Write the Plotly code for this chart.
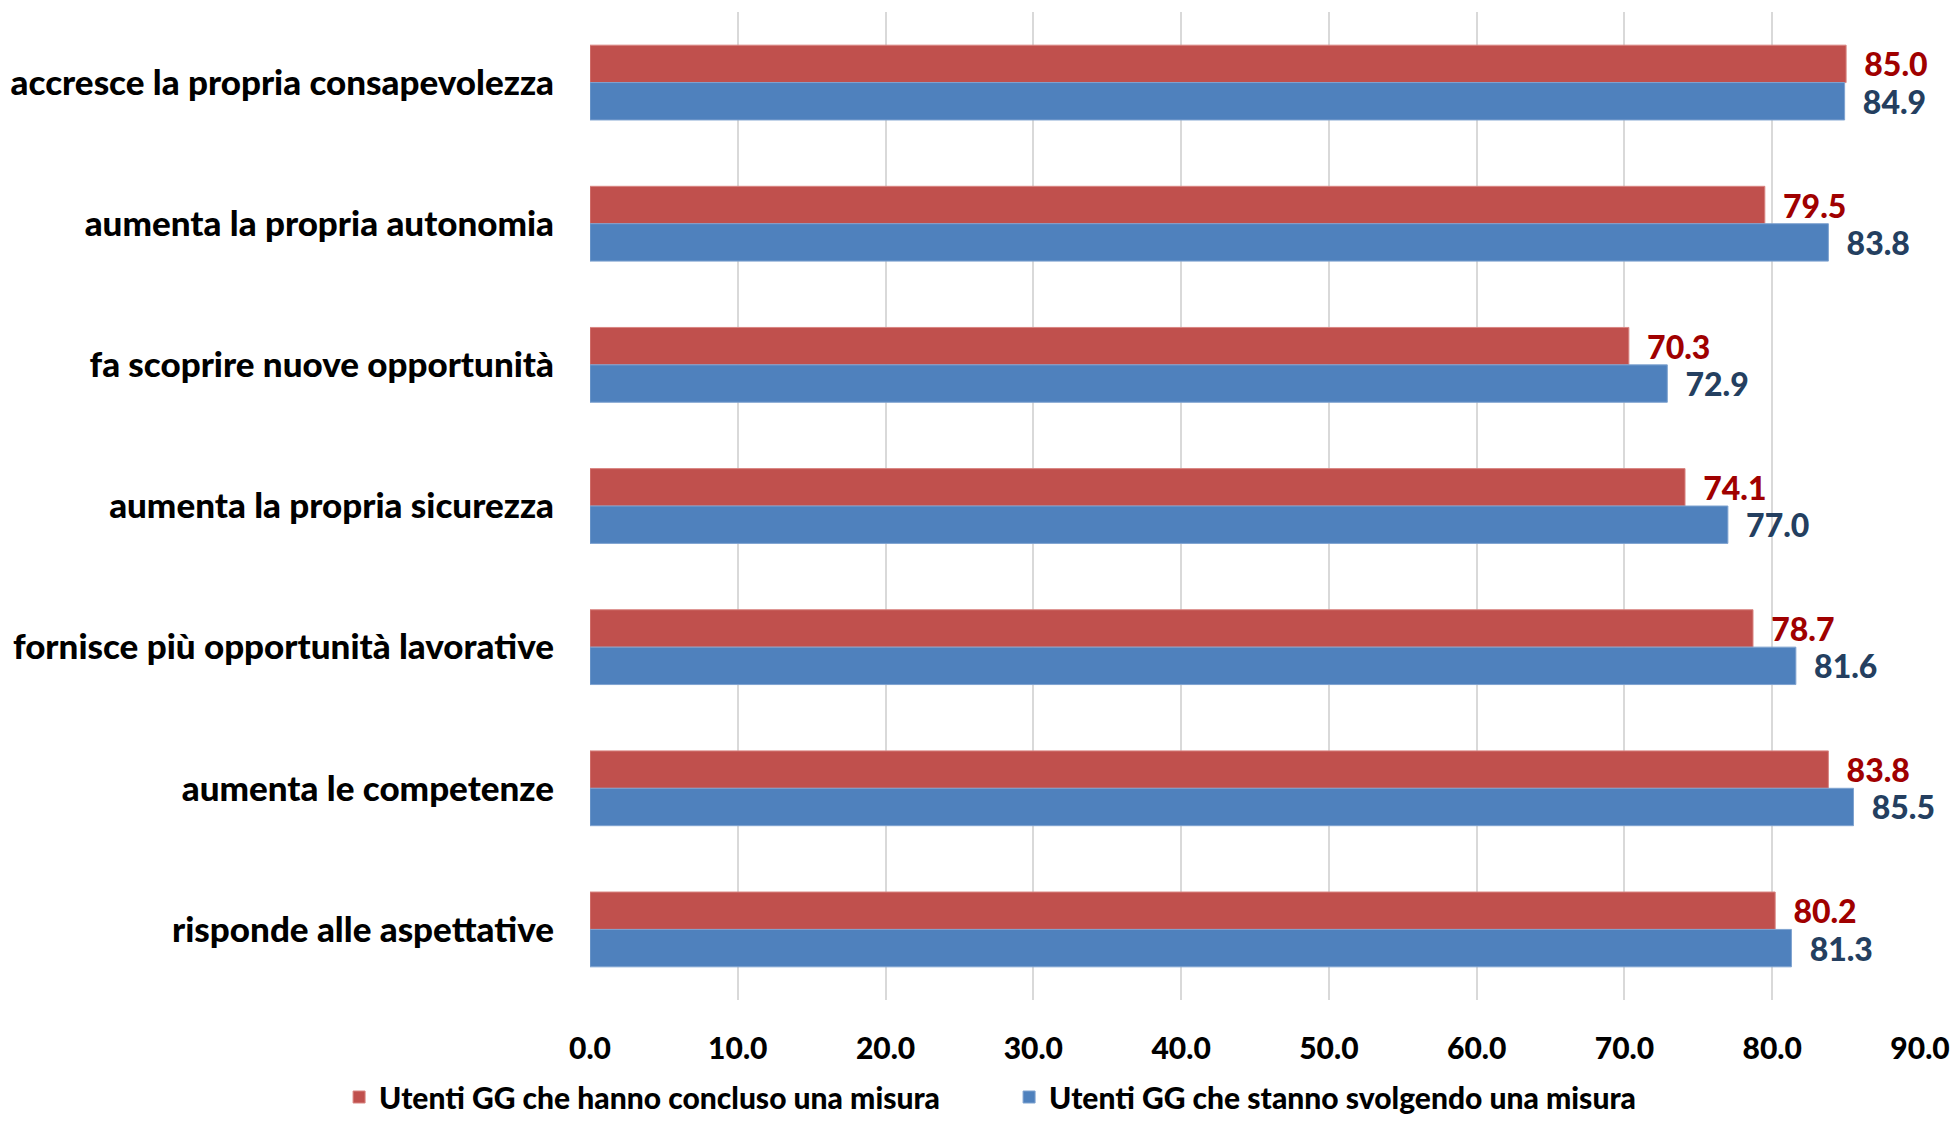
import plotly.graph_objects as go

categories = [
    "accresce la propria consapevolezza",
    "aumenta la propria autonomia",
    "fa scoprire nuove opportunità",
    "aumenta la propria sicurezza",
    "fornisce più opportunità lavorative",
    "aumenta le competenze",
    "risponde alle aspettative",
]
concluso = [85.0, 79.5, 70.3, 74.1, 78.7, 83.8, 80.2]
svolgendo = [84.9, 83.8, 72.9, 77.0, 81.6, 85.5, 81.3]
series_names = ["Utenti GG che hanno concluso una misura",
                "Utenti GG che stanno svolgendo una misura"]
tick_vals = [0, 10, 20, 30, 40, 50, 60, 70, 80, 90]

FONT = "Lato"
W = 900
PAD = "\u00a0" * 9

fig = go.Figure()
fig.add_trace(go.Bar(
    y=categories, x=concluso, orientation="h", name=series_names[0] + PAD,
    marker=dict(color="#C0504D", line=dict(color="#D98582", width=1)),
    text=[f"{v:.1f}" for v in concluso], texttemplate="\u00a0\u00a0%{text}",
    textposition="outside", cliponaxis=False, constraintext="none",
    textfont=dict(family=FONT, size=32, color="#A00000", weight=W),
))
fig.add_trace(go.Bar(
    y=categories, x=svolgendo, orientation="h", name=series_names[1],
    marker=dict(color="#4F81BD", line=dict(color="#7FA3D0", width=1)),
    text=[f"{v:.1f}" for v in svolgendo], texttemplate="\u00a0\u00a0%{text}",
    textposition="outside", cliponaxis=False, constraintext="none",
    textfont=dict(family=FONT, size=32, color="#243F60", weight=W),
))

fig.update_layout(
    width=1951, height=1115,
    barmode="group", bargap=0.47, bargroupgap=0,
    plot_bgcolor="white", paper_bgcolor="white",
    margin=dict(l=582, r=39, t=4, b=123),
    font=dict(family=FONT, color="black"),
    xaxis=dict(
        range=[0, 90], tickvals=tick_vals, tickformat=".1f",
        showgrid=True, gridcolor="#D9D9D9", gridwidth=2,
        zeroline=False, showline=False, automargin=False,
        tickfont=dict(family=FONT, size=30, color="black", weight=W),
        ticklabelstandoff=28,
    ),
    yaxis=dict(
        autorange="reversed", showgrid=False, showline=False, zeroline=False,
        automargin=False,
        tickfont=dict(family=FONT, size=35, color="black", weight=W),
        ticklabelstandoff=35,
    ),
    legend=dict(
        orientation="h", xref="container", yref="container",
        x=0.1697, xanchor="left", y=-0.008, yanchor="bottom",
        font=dict(family=FONT, size=30, color="black", weight=W),
        itemwidth=30, entrywidth=0,
    ),
    showlegend=True,
)

fig.write_html("out.html")
